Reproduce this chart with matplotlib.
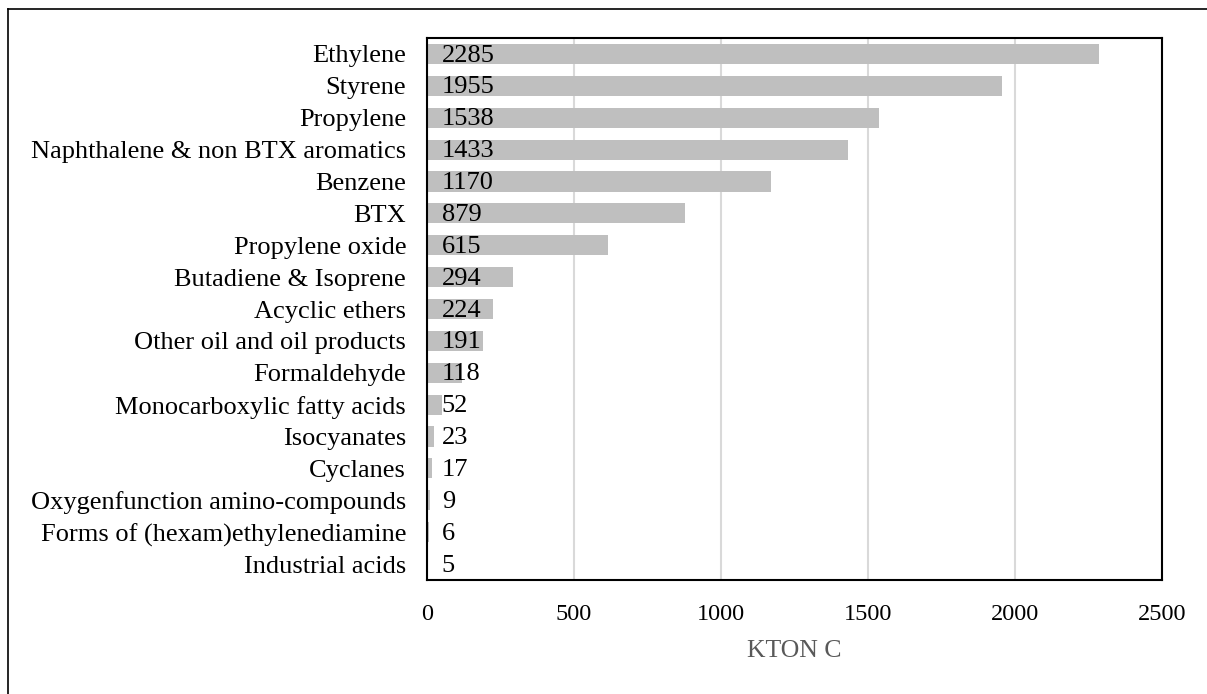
import matplotlib.pyplot as plt
from matplotlib.lines import Line2D

categories = [
    "Ethylene", "Styrene", "Propylene", "Naphthalene & non BTX aromatics",
    "Benzene", "BTX", "Propylene oxide", "Butadiene & Isoprene",
    "Acyclic ethers", "Other oil and oil products", "Formaldehyde",
    "Monocarboxylic fatty acids", "Isocyanates", "Cyclanes",
    "Oxygenfunction amino-compounds", "Forms of (hexam)ethylenediamine",
    "Industrial acids",
]
values = [2285, 1955, 1538, 1433, 1170, 879, 615, 294, 224, 191, 118, 52, 23, 17, 9, 6, 5]
xticks = [0, 500, 1000, 1500, 2000, 2500]

plt.rcParams['font.family'] = ['Liberation Serif', 'DejaVu Serif']

fig = plt.figure(figsize=(12.07, 6.94), dpi=100)
ax = fig.add_axes([427 / 1207, 1 - 580 / 694, (1162 - 427) / 1207, (580 - 38) / 694])

ypos = list(range(len(categories)))
ax.barh(ypos, values, height=0.63, color='#bfbfbf', zorder=2)
ax.set_ylim(len(categories) - 0.5, -0.5)
ax.set_xlim(0, 2500)
ax.set_xticks(xticks)
ax.set_xticklabels([str(t) for t in xticks], fontsize=17.5)
ax.set_yticks(ypos)
ax.set_yticklabels(categories, fontsize=19)
ax.tick_params(axis='both', length=0)
ax.tick_params(axis='x', pad=17)
ax.tick_params(axis='y', pad=15)
ax.xaxis.grid(True, color='#d9d9d9', linewidth=1.5, zorder=0)
ax.set_axisbelow(True)
for s in ax.spines.values():
    s.set_linewidth(1.5)
    s.set_color('black')

for y, v in zip(ypos, values):
    ax.text(50, y + 0.05, str(v), va='center', ha='left', fontsize=19, zorder=3)

ax.set_xlabel("KTON C", fontsize=18.5, color='#595959', labelpad=11)

# outer frame (only top and left edges visible)
fig.add_artist(Line2D([8 / 1207, 8 / 1207], [0, 1 - 9 / 694], transform=fig.transFigure,
                      color='black', linewidth=1.2))
fig.add_artist(Line2D([8 / 1207, 1], [1 - 9 / 694, 1 - 9 / 694], transform=fig.transFigure,
                      color='black', linewidth=1.2))

fig.savefig("out.png", dpi=100)
